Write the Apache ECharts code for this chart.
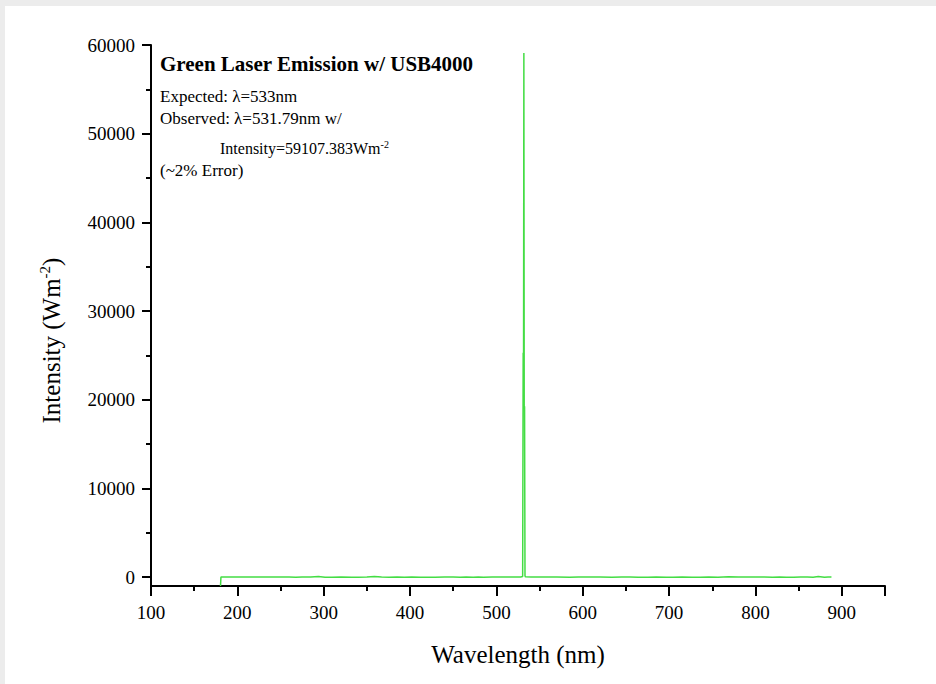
<!DOCTYPE html>
<html>
<head>
<meta charset="utf-8">
<script src="https://cdn.jsdelivr.net/npm/echarts@6/dist/echarts.min.js"></script>
<style>
  html, body { margin: 0; padding: 0; background: #ececec; }
  #chart { position: absolute; left: 5px; top: 6px; width: 931px; height: 678px; background: #fff; }
</style>
</head>
<body>
<div id="chart"></div>
<script>
// wavelength (nm)
const wavelength = [180.5, 181, 190, 200, 215, 230, 245, 260, 267.6, 275, 285, 293.9, 301.6, 309.4, 320,
  332.5, 340, 350, 358.7, 367, 375.8, 385, 393.5, 402, 411.7, 423.3, 429, 440, 450, 458, 465, 473, 479,
  485, 495, 505, 515, 522, 528, 530.4, 531.0, 531.4, 531.79, 532.2, 532.6, 533.1, 533.6, 540, 550, 560,
  570, 584.8, 595, 610, 620, 633.8, 645, 655, 664, 675.5, 685, 696.7, 704.5, 715, 726.5, 736, 746, 756.6,
  768.8, 780, 790, 800, 810, 819.9, 828, 835.8, 844.3, 852, 860, 866.8, 872.7, 879.9, 884, 888];
// intensity (W m^-2)
const intensity = [-1000, 10, 15, 10, 15, 10, 15, 10, -20, 10, 15, 60, -15, -20, 10,
  -20, -15, 10, 60, 15, -15, 10, -20, 10, -20, -15, -20, 10, 15, -20, 10, -20, 10,
  -20, 15, 10, 15, 10, 15, 80, 25300, 19400, 59107, 19300, 19200, 150, 30, 10, 15, 10,
  15, -20, 10, 15, 10, -20, 10, 15, -20, -15, 10, -20, -15, 10, -20, -20, 10, -15,
  50, 10, 15, 10, 15, -20, 10, -20, -20, 10, 15, -15, 60, -20, 10, 5];

// axis ranges and tick values
const xRange = [100, 950];
const xStep = 100;
const yRange = [-1000, 60000];
const yMajor = [0, 10000, 20000, 30000, 40000, 50000, 60000];
const yMinor = [5000, 15000, 25000, 35000, 45000, 55000];

const series = wavelength.map((w, i) => [w, intensity[i]]);

const serif = '"Liberation Serif", "Times New Roman", serif';
const chart = echarts.init(document.getElementById('chart'), null, { renderer: 'svg' });

const blackLine = { color: '#000', width: 2 };

const option = {
  backgroundColor: '#fff',
  animation: false,
  grid: { left: 146, right: 51, top: 39, bottom: 98 },
  xAxis: {
    type: 'value',
    min: xRange[0], max: xRange[1], interval: xStep,
    name: 'Wavelength (nm)',
    nameLocation: 'middle',
    nameGap: 56,
    nameTextStyle: { fontFamily: serif, fontSize: 25, color: '#000' },
    axisLine: { show: true, onZero: false, lineStyle: blackLine },
    axisTick: { show: true, inside: false, length: 10, lineStyle: blackLine },
    minorTick: { show: true, splitNumber: 2, length: 5, lineStyle: blackLine },
    splitLine: { show: false },
    axisLabel: {
      fontFamily: serif, fontSize: 19, color: '#000', margin: 17,
      formatter: v => (v > 900 ? '' : String(v))
    }
  },
  yAxis: [{
    type: 'value',
    min: yRange[0], max: yRange[1],
    name: '{n|Intensity (Wm}{s|-2}{n|)}',
    nameLocation: 'middle',
    nameRotate: 90,
    nameGap: 86,
    nameTextStyle: {
      padding: [0, 50, 0, 0],
      rich: {
        n: { fontFamily: serif, fontSize: 25, color: '#000' },
        s: { fontFamily: serif, fontSize: 15, color: '#000', verticalAlign: 'top', padding: [0, 0, 13, 0] }
      }
    },
    axisLine: { show: true, onZero: false, lineStyle: blackLine },
    axisTick: { show: true, inside: false, length: 9, lineStyle: blackLine, customValues: yMajor },
    splitLine: { show: false },
    axisLabel: {
      fontFamily: serif, fontSize: 19, color: '#000', margin: 16,
      customValues: yMajor,
      formatter: v => String(v)
    }
  }, {
    // minor ticks only
    type: 'value',
    position: 'left',
    min: yRange[0], max: yRange[1],
    axisLine: { show: false, onZero: false },
    axisTick: { show: true, inside: false, length: 5, lineStyle: blackLine, customValues: yMinor },
    axisLabel: { show: false, customValues: yMinor },
    splitLine: { show: false }
  }],
  series: [{
    type: 'line',
    data: series,
    showSymbol: false,
    lineStyle: { color: '#44dd44', width: 1.5 },
    clip: true
  }],
  graphic: [
    {
      type: 'text', left: 155, top: 47,
      style: { text: 'Green Laser Emission w/ USB4000', font: 'bold 21px ' + serif, fill: '#000' }
    },
    {
      type: 'text', left: 155, top: 82,
      style: { text: 'Expected: λ=533nm', font: '17px ' + serif, fill: '#000' }
    },
    {
      type: 'text', left: 155, top: 104,
      style: { text: 'Observed: λ=531.79nm w/', font: '17px ' + serif, fill: '#000' }
    },
    {
      type: 'text', left: 215, top: 133,
      style: {
        text: '{n|Intensity=59107.383Wm}{s|-2}',
        rich: {
          n: { font: '16px ' + serif, fill: '#000' },
          s: { font: '10px ' + serif, fill: '#000', verticalAlign: 'top', padding: [0, 0, 9, 0] }
        }
      }
    },
    {
      type: 'text', left: 155, top: 156,
      style: { text: '(~2% Error)', font: '17px ' + serif, fill: '#000' }
    }
  ]
};

chart.setOption(option);
</script>
</body>
</html>
